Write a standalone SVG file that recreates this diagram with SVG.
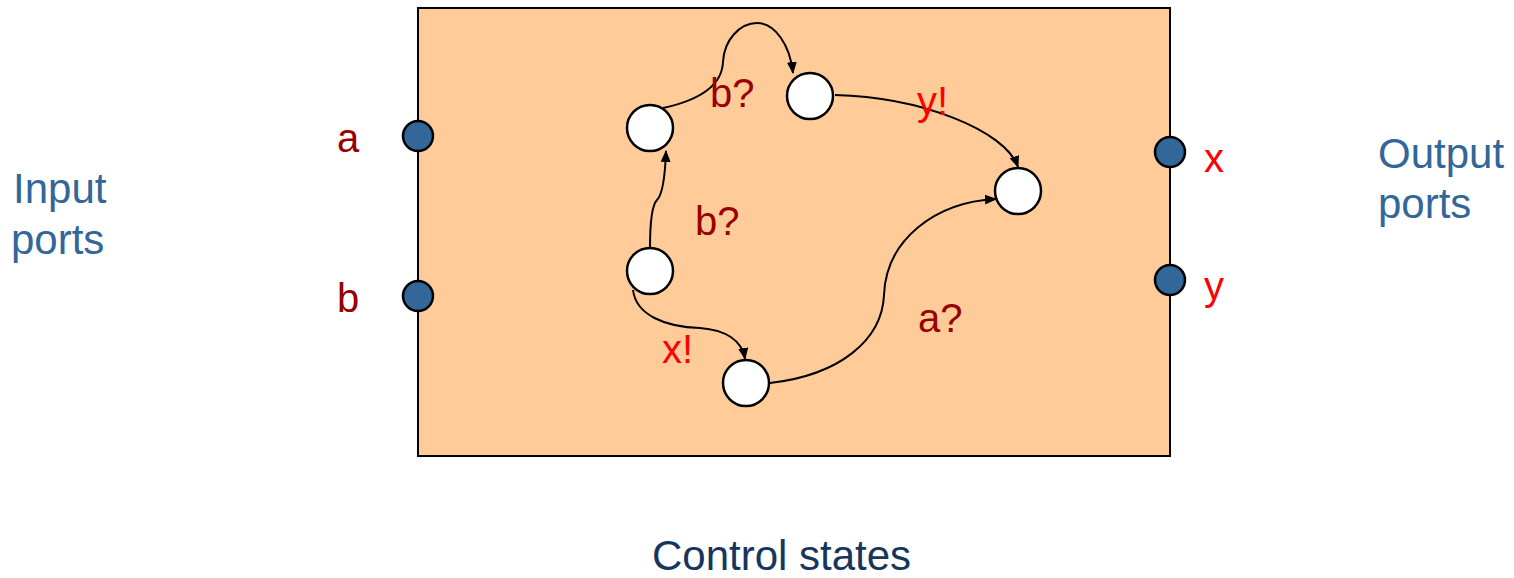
<svg xmlns="http://www.w3.org/2000/svg" width="1514" height="578" viewBox="0 0 1514 578">
<style>
text{font-family:"Liberation Sans",Arial,sans-serif;}
.title{font-size:42px;fill:#336699;}
.ctl{font-size:42px;fill:#17365D;}
.in{font-size:40px;fill:#990000;}
.out{font-size:40px;fill:#FF0000;}
.port{fill:#336699;stroke:#000;stroke-width:2.5;}
.state{fill:#fff;stroke:#000;stroke-width:2.5;}
.edge{fill:none;stroke:#000;stroke-width:2;marker-end:url(#arr);}
</style>
<defs>
<marker id="arr" markerUnits="userSpaceOnUse" markerWidth="12" markerHeight="10" refX="11" refY="5" orient="auto">
<path d="M0,0 L12,5 L0,10 z" fill="#000"/>
</marker>
</defs>
<rect x="418" y="8" width="752" height="448" fill="#FFCC99" stroke="#000" stroke-width="2"/>
<text class="title" x="13" y="203">Input</text>
<text class="title" x="11" y="254">ports</text>
<text class="title" x="1378" y="168">Output</text>
<text class="title" x="1378" y="218">ports</text>
<text class="ctl" x="652" y="570">Control states</text>
<g id="port-a"><circle class="port" cx="418" cy="136" r="15"/><text class="in" x="337" y="152">a</text></g>
<g id="port-b"><circle class="port" cx="418" cy="296" r="15"/><text class="in" x="337" y="312">b</text></g>
<g id="port-x"><circle class="port" cx="1170" cy="152" r="15"/><text class="out" x="1204" y="172">x</text></g>
<g id="port-y"><circle class="port" cx="1170" cy="280" r="15"/><text class="out" x="1204" y="300">y</text></g>
<g id="connectors">
<path class="edge" d="M663,108 C700,100 722,85 723,62 C724,40 740,23 757,23 C775,23 790,45 793,73"/>
<path class="edge" d="M650,248 C650,225 652,205 657,200 C662,195 665,180 666,151"/>
<path class="edge" d="M633,290 C636,315 665,327 700,328 C725,330 742,340 745,359"/>
<path class="edge" d="M835,95 C920,97 1005,130 1018,167"/>
<path class="edge" d="M770,383 C840,375 882,340 884,295 C886,240 935,202 996,199"/>
</g>
<g id="s1"><circle class="state" cx="650" cy="128" r="23"/></g>
<g id="s2"><circle class="state" cx="810" cy="96" r="23"/></g>
<g id="s3"><circle class="state" cx="1018" cy="191" r="23"/></g>
<g id="s4"><circle class="state" cx="650" cy="271" r="23"/></g>
<g id="s5"><circle class="state" cx="746" cy="383" r="23"/></g>
<g id="labels">
<text class="in" x="710" y="107">b?</text>
<text class="in" x="695" y="235">b?</text>
<text class="out" x="662" y="363">x!</text>
<text class="out" x="917" y="115">y!</text>
<text class="in" x="918" y="332">a?</text>
</g>
</svg>
